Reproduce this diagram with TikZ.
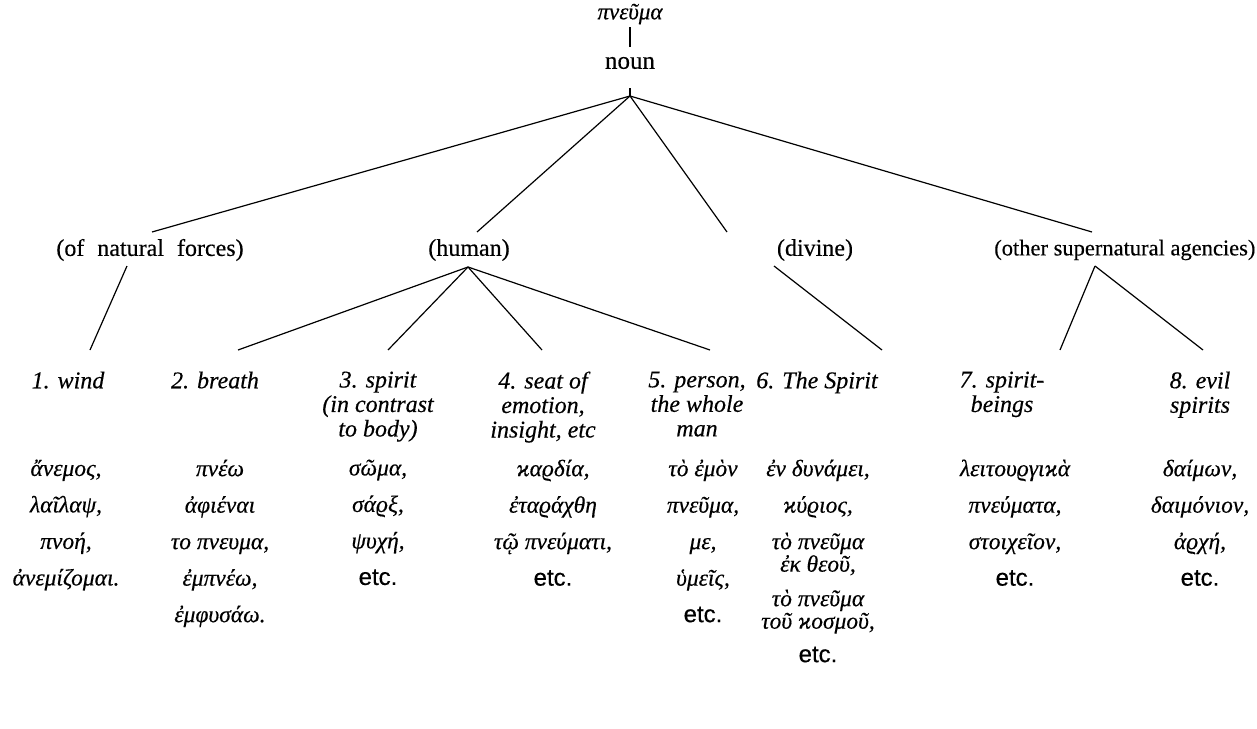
\documentclass[tikz,border=0pt]{standalone}
\usepackage{fontspec}
\setmainfont{Liberation Serif}[FakeBold=0.35]
\newfontfamily\grkfont[Script=Greek,FakeBold=0.35]{Liberation Serif}
\newfontfamily\sansfont[FakeBold=0.35]{Liberation Sans}
\newcommand{\etcx}{{\sansfont\upshape\fontsize{24}{36.5}\selectfont etc.}}
\begin{document}
\begin{tikzpicture}[x=1pt,y=-1pt,line width=1.2pt,
  lvltwo/.style={font=\fontsize{24}{26}\selectfont, inner sep=0pt},
  sense/.style={font=\fontsize{24}{24.5}\selectfont\itshape, align=center, inner sep=0pt, anchor=north},
  words/.style={font=\fontsize{23.5}{36.5}\selectfont\grkfont\itshape, align=center, inner sep=0pt, anchor=north}]
\useasboundingbox (0,0) rectangle (1257,728);
% top
\node[font=\fontsize{23}{24}\selectfont\grkfont\itshape, inner sep=0pt] (top) at (630,14) {πνεῦμα};
\node[font=\fontsize{25}{26}\selectfont, inner sep=0pt] (noun) at (630,63) {noun};
\coordinate (ta) at (630,27);
\coordinate (tb) at (630,47);
\draw (ta) -- (tb);
\coordinate (nt) at (630,88);
\coordinate (nj) at (630,96);
\draw (nt) -- (nj);
% level two
\node[lvltwo] (nat) at (150,250) {(of\hspace{7pt} natural\hspace{7pt} forces)};
\node[lvltwo] (hum) at (469,250) {(human)};
\node[lvltwo] (div) at (815,250) {(divine)};
\node[lvltwo, anchor=east, font=\fontsize{22.5}{26}\selectfont] (oth) at (1256,250) {(other supernatural agencies)};
\coordinate (natN) at (152,232);
\coordinate (humN) at (477,232);
\coordinate (divN) at (727,232);
\coordinate (othN) at (1092,232);
\draw (nj) -- (natN);
\draw (nj) -- (humN);
\draw (nj) -- (divN);
\draw (nj) -- (othN);
\coordinate (natS) at (127,266);
\coordinate (humS) at (468,267);
\coordinate (divS) at (774,266);
\coordinate (othS) at (1095,266);
% level three
\node[sense] (s1) at (68,371) {1. wind};
\node[sense] (s2) at (215,371) {2. breath};
\node[sense] (s3) at (378,371) {3. spirit\\(in contrast\\to body)};
\node[sense] (s4) at (543,371) {4. seat of\\emotion,\\insight, etc};
\node[sense] (s5) at (697,371) {5. person,\\the whole\\man};
\node[sense] (s6) at (817,371) {6. The Spirit};
\node[sense] (s7) at (1002,371) {7. spirit-\\beings};
\node[sense] (s8) at (1200,371) {8. evil\\spirits};
\coordinate (e1) at (90,350);
\coordinate (e2) at (238,350);
\coordinate (e3) at (388,350);
\coordinate (e4) at (542,350);
\coordinate (e5) at (710,350);
\coordinate (e6) at (882,350);
\coordinate (e7) at (1060,350);
\coordinate (e8) at (1203,350);
\draw (natS) -- (e1);
\draw (humS) -- (e2);
\draw (humS) -- (e3);
\draw (humS) -- (e4);
\draw (humS) -- (e5);
\draw (divS) -- (e6);
\draw (othS) -- (e7);
\draw (othS) -- (e8);
% words
\node[words] (w1) at (66,459) {ἄνεμος,\\λαῖλαψ,\\πνοή,\\ἀνεμίζομαι.};
\node[words] (w2) at (220,459) {πνέω\\ἀφιέναι\\το πνευμα,\\ἐμπνέω,\\ἐμφυσάω.};
\node[words] (w3) at (378,459) {σῶμα,\\σάϱξ,\\ψυχή,\\\etcx};
\node[words] (w4) at (553,459) {ϰαϱδία,\\ἐταϱάχθη\\τῷ πνεύματι,\\\etcx};
\node[words] (w5) at (703,459) {τὸ ἐμὸν\\πνεῦμα,\\με,\\ὑμεῖς,\\\etcx};
\node[words] (w6) at (818,459) {ἐν δυνάμει,\\ϰύϱιος,\\τὸ πνεῦμα\\[-14pt]ἐκ θεοῦ,\\[-2pt]τὸ πνεῦμα\\[-14pt]τοῦ ϰοσμοῦ,\\[-3pt]\etcx};
\node[words] (w7) at (1015,459) {λειτουϱγιϰὰ\\πνεύματα,\\στοιχεῖον,\\\etcx};
\node[words] (w8) at (1200,459) {δαίμων,\\δαιμόνιον,\\ἀϱχή,\\\etcx};
\end{tikzpicture}
\end{document}
